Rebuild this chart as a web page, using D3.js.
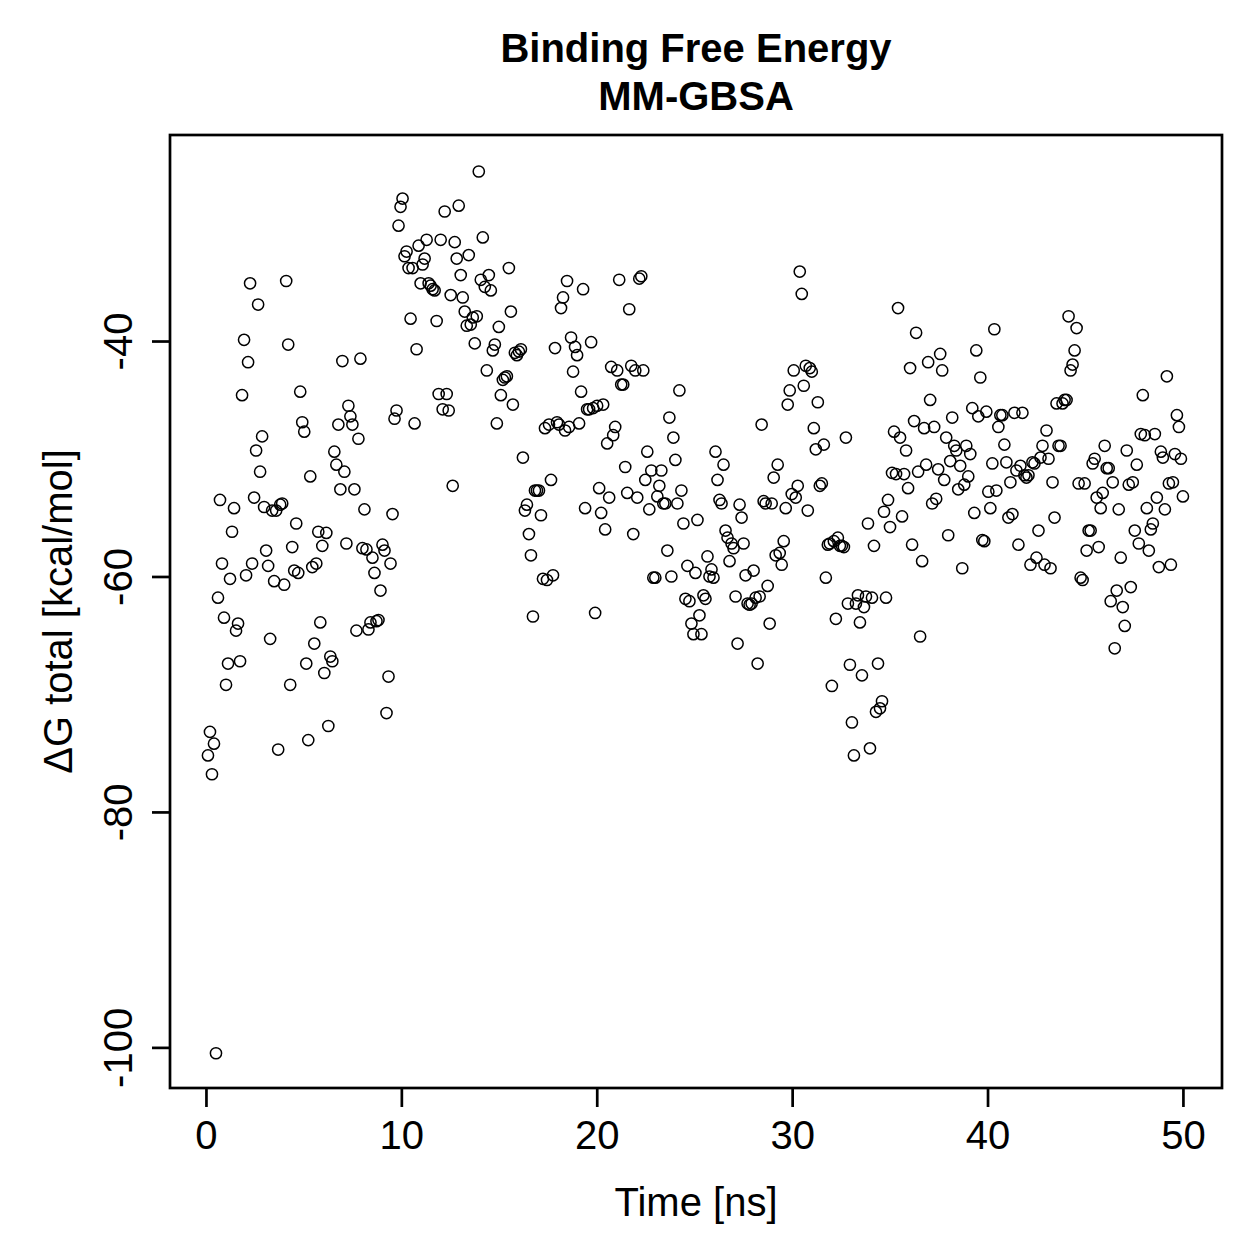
<!DOCTYPE html>
<meta charset="utf-8">
<style>
    body { margin: 0; background: #fff; }
    text { font-family: "Liberation Sans", Arial, sans-serif; fill: #000; }
</style>
<body>
<script src="https://d3js.org/d3.v7.min.js"></script>
<script>
    var width = 1259,
        height = 1259

    // ΔG total per frame (kcal/mol) in time order
    var dG = [
        -75.2,-73.2,-76.8,-74.2,-100.5,-61.8,-53.5,-58.9,-63.5,-69.2,
        -67.4,-60.2,-56.2,-54.2,-64.6,-64.0,-67.2,-44.6,-39.9,-59.9,
        -41.8,-35.1,-58.9,-53.3,-49.3,-36.9,-51.1,-48.1,-54.1,-57.8,
        -59.1,-65.3,-54.4,-60.4,-54.4,-74.7,-53.9,-53.8,-60.7,-34.9,
        -40.3,-69.2,-57.5,-59.5,-55.5,-59.7,-44.3,-46.9,-47.7,-67.4,
        -73.9,-51.5,-59.2,-65.7,-58.9,-56.2,-63.9,-57.4,-68.2,-56.3,
        -72.7,-66.8,-67.2,-49.4,-50.5,-47.1,-52.6,-41.7,-51.1,-57.2,
        -45.5,-46.4,-47.1,-52.6,-64.6,-48.3,-41.5,-57.6,-54.3,-57.7,
        -64.5,-63.9,-58.4,-59.7,-63.8,-63.7,-61.2,-57.3,-57.8,-71.6,
        -68.5,-58.9,-54.7,-46.6,-45.9,-30.2,-28.6,-27.9,-32.8,-32.4,
        -33.8,-38.1,-33.8,-47.0,-40.7,-31.9,-35.1,-33.5,-33.0,-31.4,
        -35.1,-35.3,-35.6,-35.7,-38.3,-44.5,-31.4,-45.8,-29.0,-44.5,
        -45.9,-36.1,-52.3,-31.6,-33.0,-28.5,-34.4,-36.3,-37.5,-38.7,
        -32.7,-38.6,-38.0,-40.2,-37.9,-25.6,-34.8,-31.2,-35.4,-42.5,
        -34.4,-35.7,-40.8,-40.3,-47.0,-38.8,-44.6,-43.3,-43.1,-43.0,
        -33.8,-37.5,-45.4,-41.0,-41.2,-40.9,-40.7,-49.9,-54.4,-53.9,
        -56.4,-58.2,-63.4,-52.7,-52.7,-52.7,-54.8,-60.2,-47.4,-60.3,
        -47.1,-51.8,-59.9,-40.6,-46.9,-47.1,-37.2,-36.3,-47.6,-34.9,
        -47.3,-39.7,-42.6,-40.5,-41.2,-47.0,-44.3,-35.6,-54.2,-45.8,
        -45.8,-40.1,-45.7,-63.1,-45.5,-52.5,-54.6,-45.4,-56.0,-48.7,
        -53.3,-42.2,-48.0,-47.3,-42.5,-34.8,-43.7,-43.7,-50.7,-52.9,
        -37.3,-42.1,-56.4,-42.5,-53.3,-34.7,-34.5,-42.5,-51.8,-49.4,
        -54.3,-51.0,-60.1,-60.1,-53.2,-52.3,-51.0,-53.8,-53.8,-57.8,
        -46.5,-60.0,-48.2,-50.1,-53.8,-44.2,-52.7,-55.5,-61.9,-59.1,
        -62.1,-64.0,-64.9,-59.7,-55.2,-63.3,-64.9,-61.6,-61.9,-58.3,
        -60.0,-59.4,-60.1,-49.4,-51.8,-53.5,-53.8,-50.5,-56.1,-56.7,
        -58.7,-57.2,-57.6,-61.7,-65.7,-53.9,-55.0,-57.2,-59.9,-62.3,
        -62.4,-62.3,-59.5,-61.8,-67.4,-61.7,-47.1,-53.6,-53.8,-60.8,
        -64.0,-53.8,-51.6,-58.2,-50.5,-58.0,-59.0,-57.0,-54.2,-45.4,
        -44.2,-53.0,-42.5,-53.3,-52.3,-34.1,-36.0,-43.8,-42.1,-54.4,
        -42.3,-42.6,-47.4,-49.2,-45.2,-52.3,-52.1,-48.8,-60.1,-57.3,
        -57.2,-69.3,-57.0,-63.6,-56.7,-57.4,-57.4,-57.5,-48.2,-62.3,
        -67.5,-72.4,-75.2,-62.3,-61.6,-63.9,-68.4,-62.6,-61.7,-55.5,
        -74.6,-61.8,-57.4,-71.5,-67.4,-71.2,-70.6,-54.5,-61.8,-53.5,
        -55.8,-51.2,-47.7,-51.3,-37.2,-48.2,-54.9,-51.3,-49.3,-52.5,
        -42.3,-57.3,-46.8,-39.3,-51.1,-65.1,-58.7,-47.4,-50.5,-41.8,
        -45.0,-53.8,-47.3,-53.4,-50.9,-41.1,-42.5,-51.8,-48.2,-56.5,
        -50.2,-46.5,-48.9,-49.3,-52.6,-50.6,-59.3,-52.2,-48.9,-51.5,
        -49.6,-45.7,-54.6,-40.8,-46.4,-43.1,-56.9,-57.0,-46.0,-52.8,
        -54.2,-50.4,-39.0,-52.7,-47.3,-46.3,-46.3,-48.8,-50.3,-55.0,
        -52.0,-54.7,-46.1,-51.0,-57.3,-50.6,-46.1,-51.4,-51.6,-51.4,
        -59.0,-50.3,-50.4,-58.4,-56.1,-49.9,-48.9,-59.0,-47.6,-50.0,
        -59.3,-52.0,-55.0,-45.3,-48.9,-48.9,-45.3,-45.0,-45.0,-37.9,
        -42.5,-42.0,-40.8,-38.9,-52.1,-60.1,-60.3,-52.1,-57.8,-56.1,
        -56.1,-50.4,-50.0,-53.3,-57.5,-54.2,-52.9,-48.9,-50.8,-50.8,
        -62.1,-52.0,-66.1,-61.2,-54.3,-58.4,-62.6,-64.2,-49.3,-52.2,
        -60.9,-52.0,-56.1,-50.5,-57.2,-47.9,-44.6,-48.0,-54.2,-57.8,
        -56.0,-55.5,-47.9,-53.3,-59.2,-49.4,-49.9,-54.3,-43.0,-52.1,
        -59.0,-52.0,-49.6,-46.3,-47.3,-50.0,-53.2
    ]

    // frames are evenly spaced over the 50 ns run
    var runLength = 50
    var time = dG.map(function (v, i) { return (i + 1) * runLength / dG.length })

    var xTicks = [0, 10, 20, 30, 40, 50]
    var yTicks = [-40, -60, -80, -100]

    var titleLines = ["Binding Free Energy", "MM-GBSA"]
    var xLabel = "Time [ns]"
    var yLabel = "\u0394G total [kcal/mol]"

    var plot = { left: 170, right: 1222, top: 135, bottom: 1088 }

    var x = d3.scaleLinear().domain([-1.84, 52.0]).range([plot.left, plot.right])
    var y = d3.scaleLinear().domain([-103.45, -22.5]).range([plot.bottom, plot.top])

    // plain hyphen for negatives, like R does
    var plain = function (d) { return String(d) }

    var svg = d3.select("body").append("svg")
        .attr("width", width)
        .attr("height", height)

    svg.append("rect")
        .attr("width", width)
        .attr("height", height)
        .attr("fill", "#fff")

    // points
    svg.append("g")
        .selectAll("circle")
        .data(dG)
        .enter().append("circle")
        .attr("cx", function (d, i) { return x(time[i]) })
        .attr("cy", function (d) { return y(d) })
        .attr("r", 5.6)
        .attr("fill", "none")
        .attr("stroke", "#000")
        .attr("stroke-width", 1.5)

    // box
    svg.append("rect")
        .attr("x", plot.left)
        .attr("y", plot.top)
        .attr("width", plot.right - plot.left)
        .attr("height", plot.bottom - plot.top)
        .attr("fill", "none")
        .attr("stroke", "#000")
        .attr("stroke-width", 2.7)

    // x axis
    var xAxis = d3.axisBottom(x).tickValues(xTicks).tickFormat(plain).tickSize(19).tickPadding(14)
    var gx = svg.append("g")
        .attr("transform", "translate(0," + plot.bottom + ")")
        .call(xAxis)
    gx.select(".domain").remove()
    gx.selectAll(".tick line").attr("stroke", "#000").attr("stroke-width", 2.7)
    gx.selectAll(".tick text")
        .attr("font-size", 40)
        .attr("font-family", "Liberation Sans, Arial, sans-serif")
        .attr("fill", "#000")

    // y axis
    var yAxis = d3.axisLeft(y).tickValues(yTicks).tickFormat(plain).tickSize(18)
    var gy = svg.append("g")
        .attr("transform", "translate(" + plot.left + ",0)")
        .call(yAxis)
    gy.select(".domain").remove()
    gy.selectAll(".tick line").attr("stroke", "#000").attr("stroke-width", 2.7)
    gy.selectAll(".tick text")
        .attr("font-size", 40)
        .attr("font-family", "Liberation Sans, Arial, sans-serif")
        .attr("fill", "#000")
        .attr("x", null)
        .attr("dy", null)
        .attr("text-anchor", "middle")
        .attr("transform", "translate(-38,0) rotate(-90)")

    // titles
    svg.append("text")
        .attr("x", (plot.left + plot.right) / 2)
        .attr("y", 62)
        .attr("text-anchor", "middle")
        .attr("font-size", 40)
        .attr("font-weight", "bold")
        .text(titleLines[0])
    svg.append("text")
        .attr("x", (plot.left + plot.right) / 2)
        .attr("y", 110)
        .attr("text-anchor", "middle")
        .attr("font-size", 40)
        .attr("font-weight", "bold")
        .text(titleLines[1])

    svg.append("text")
        .attr("x", (plot.left + plot.right) / 2)
        .attr("y", 1216)
        .attr("text-anchor", "middle")
        .attr("font-size", 40)
        .text(xLabel)

    svg.append("text")
        .attr("transform", "translate(72," + (plot.top + plot.bottom) / 2 + ") rotate(-90)")
        .attr("text-anchor", "middle")
        .attr("font-size", 40)
        .text(yLabel)
</script>
</body>
